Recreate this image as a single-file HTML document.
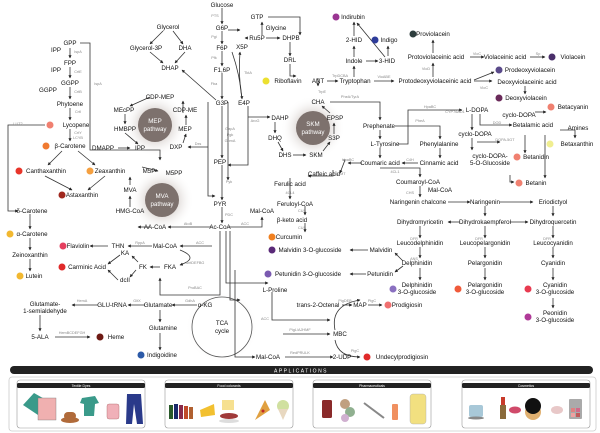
<!DOCTYPE html>
<html><head><meta charset="utf-8"><style>
html,body{margin:0;padding:0;background:#fff;}
svg{display:block;font-family:"Liberation Sans",sans-serif;}
.t{font-size:6.2px;fill:#111;text-anchor:middle;}
.e{font-size:3.8px;fill:#888;text-anchor:middle;}
.l{stroke:#333;stroke-width:0.8;fill:none;}
</style></head><body>
<svg width="600" height="433" viewBox="0 0 600 433">
<defs>
<marker id="a" markerWidth="4" markerHeight="4" refX="3.5" refY="2" orient="auto"><path d="M0,0 L4,2 L0,4z" fill="#222"/></marker>
<radialGradient id="h"><stop offset="0.55" stop-color="#e8e4e2"/><stop offset="1" stop-color="#fff" stop-opacity="0"/></radialGradient>
</defs>
<circle cx="155" cy="125" r="32" fill="url(#h)"/>
<circle cx="162" cy="200" r="32" fill="url(#h)"/>
<circle cx="313" cy="128" r="32" fill="url(#h)"/>
<circle cx="222" cy="327" r="36" fill="url(#h)"/>
<circle cx="155" cy="125" r="17" fill="#7d716d"/>
<circle cx="162" cy="200" r="17" fill="#7d716d"/>
<circle cx="313" cy="128" r="17" fill="#7d716d"/>
<circle cx="222" cy="327" r="30" fill="#fff" stroke="#555" stroke-width="0.8"/>
<text class="t" x="155" y="123" style="fill:#fff">MEP</text><text class="t" x="155" y="131" style="fill:#fff">pathway</text>
<text class="t" x="162" y="198" style="fill:#fff">MVA</text><text class="t" x="162" y="206" style="fill:#fff">pathway</text>
<text class="t" x="313" y="126" style="fill:#fff">SKM</text><text class="t" x="313" y="134" style="fill:#fff">pathway</text>
<text class="t" x="222" y="325">TCA</text><text class="t" x="222" y="333">cycle</text>

<g class="l" marker-end="url(#a)">
<path d="M222,8V24"/><path d="M222,31V44"/><path d="M222,51V66"/><path d="M222,73V99"/><path d="M222,106V158"/><path d="M222,165V200"/><path d="M222,207V223"/>
<path d="M228,30H240"/><path d="M248,38H245"/><path d="M262,35V22"/><path d="M268,17H300V35"/><path d="M266,38H280"/><path d="M290,42V56"/><path d="M290,64V76L296,76"/>
<path d="M232,52Q240,75 242,99"/><path d="M242,99Q238,75 240,52"/>
<path d="M163,31L150,44"/><path d="M173,31L183,44"/><path d="M150,52L163,63"/><path d="M185,52L175,63"/><path d="M216,100L182,70"/>
<path d="M208,102V196H215"/><path d="M228,102V180"/>
<path d="M248,106V165H228"/><path d="M248,117H270"/>
<path d="M208,147H188"/>
<path d="M275,122V133"/><path d="M278,142L283,151"/><path d="M293,155H306"/><path d="M323,151L330,142"/><path d="M334,134V123"/><path d="M330,113L322,106"/>
<path d="M70,48V58"/><path d="M70,67V78"/><path d="M70,87V99"/><path d="M70,108V120"/><path d="M70,129V141"/><path d="M62,151L48,165"/><path d="M78,151L95,165"/><path d="M45,176L72,190"/><path d="M105,176L88,190"/>
<path d="M45,125H8V211H18"/><path d="M30,214V229"/><path d="M30,238V250"/><path d="M30,259V271"/>
<path d="M80,43H90V150H160V160"/>
<path d="M183,113V101"/><path d="M150,97L130,106"/><path d="M125,114V124"/><path d="M125,133L138,144"/><path d="M183,143L186,134"/><path d="M186,125V115"/><path d="M118,148H130"/>
<path d="M142,167L158,171"/><path d="M130,185V177"/><path d="M130,207V196"/><path d="M150,227H138"/><path d="M212,227H168"/>
<path d="M228,227H262V217"/><path d="M212,246H180"/><path d="M152,246H128"/><path d="M108,246H90"/><path d="M160,267H150"/>
<path d="M138,262L132,256"/><path d="M120,255L108,264"/><path d="M136,270L130,277"/><path d="M118,280L108,270"/><path d="M180,250Q200,258 180,265"/>
<path d="M220,231V295H160V278"/><path d="M226,231V283H268"/><path d="M230,231V300H240"/>
<path d="M197,305H172"/><path d="M145,305H128"/><path d="M98,305H72"/><path d="M160,310V322"/><path d="M160,333V350"/><path d="M40,315V331"/><path d="M55,337H90"/>
<path d="M235,270V357H255"/>
<path d="M285,357H333"/><path d="M283,334H330"/><path d="M272,292V320H330"/><path d="M342,305H352"/><path d="M368,305H382"/>
<path d="M335,330Q330,305 360,300"/><path d="M335,340Q338,357 360,357"/>
<path d="M290,178V199"/><path d="M305,206V215"/><path d="M305,223V232"/><path d="M333,170V176H308"/>
<path d="M343,160H345L340,173"/><path d="M362,163H348"/>
<path d="M318,78V86"/><path d="M327,81H338"/><path d="M354,77V66"/><path d="M354,57V46"/><path d="M354,36V22"/><path d="M366,61H378"/><path d="M388,56V46"/><path d="M385,57L357,23"/><path d="M374,81H394"/>
<path d="M433,77V63"/><path d="M433,53V40"/><path d="M470,57H484"/><path d="M530,57H545"/><path d="M474,80L494,72"/><path d="M474,81H492"/><path d="M525,86V94"/>
<path d="M330,102H380V120"/><path d="M380,130V139"/><path d="M380,148V158"/><path d="M395,126H440V139"/><path d="M440,148V158"/><path d="M418,163H402"/>
<path d="M398,144H408V110H462"/><path d="M380,168H420V177"/><path d="M420,186V197"/><path d="M448,202H470"/><path d="M500,202H533"/>
<path d="M472,114V130"/><path d="M480,114V125H512"/><path d="M472,138V150"/><path d="M477,142H500"/><path d="M510,175V182H514"/>
<path d="M535,112H546"/><path d="M560,130L575,130V138"/><path d="M525,135V153"/><path d="M545,135V178"/>
<path d="M485,206V216"/><path d="M553,206V216"/><path d="M460,222H448"/><path d="M510,222H528"/>
<path d="M420,226V238"/><path d="M485,226V238"/><path d="M553,226V238"/><path d="M420,247V258"/><path d="M485,247V258"/><path d="M553,247V258"/>
<path d="M420,268V280"/><path d="M485,268V280"/><path d="M553,268V280"/><path d="M553,298V308"/>
<path d="M403,261L395,253"/><path d="M403,266L395,272"/><path d="M368,250H350"/><path d="M366,274H350"/>
</g>

<g>
<circle cx="50" cy="125" r="3.5" fill="#f08070"/><circle cx="46" cy="146" r="3.5" fill="#f07a30"/>
<circle cx="19" cy="171" r="3.5" fill="#e8352a"/><circle cx="90" cy="171" r="3.5" fill="#f5a040"/>
<circle cx="62" cy="195" r="3.5" fill="#a0281e"/><circle cx="10" cy="234" r="3.5" fill="#f2b830"/>
<circle cx="20" cy="276" r="3.5" fill="#f2b830"/><circle cx="63" cy="246" r="3.5" fill="#e54060"/>
<circle cx="62" cy="267" r="3.5" fill="#e02a2a"/><circle cx="100" cy="337" r="3.5" fill="#6e1a14"/>
<circle cx="141" cy="355" r="3.5" fill="#2c5aa8"/><circle cx="266" cy="81" r="3.5" fill="#ece030"/>
<circle cx="336" cy="17" r="3.5" fill="#9a3592"/><circle cx="375" cy="40" r="3.5" fill="#2e3c9a"/>
<circle cx="413" cy="34" r="3.5" fill="#2e3e3e"/><circle cx="552" cy="57" r="3.5" fill="#4a2f6a"/>
<circle cx="499" cy="70" r="3.5" fill="#5a4a8a"/><circle cx="499" cy="98" r="3.5" fill="#6a2a5a"/>
<circle cx="551" cy="107" r="3.5" fill="#f08070"/><circle cx="550" cy="144" r="3.5" fill="#f0ee90"/>
<circle cx="517" cy="157" r="3.5" fill="#f08070"/><circle cx="519" cy="183" r="3.5" fill="#f08070"/>
<circle cx="272" cy="237" r="3.5" fill="#f08020"/><circle cx="272" cy="250" r="3.5" fill="#5a2a78"/>
<circle cx="268" cy="274" r="3.5" fill="#7a5ab0"/><circle cx="393" cy="289" r="3.5" fill="#8a70c0"/>
<circle cx="458" cy="289" r="3.5" fill="#f05a3a"/><circle cx="528" cy="289" r="3.5" fill="#e83a50"/>
<circle cx="528" cy="317" r="3.5" fill="#b03a98"/><circle cx="388" cy="305" r="3.5" fill="#f07070"/>
<circle cx="367" cy="357" r="3.5" fill="#e02a2a"/>
</g>

<g class="t">
<text x="222" y="7">Glucose</text><text x="222" y="30">G6P</text><text x="222" y="50">F6P</text><text x="222" y="72">F1,6P</text><text x="222" y="105">G3P</text><text x="244" y="105">E4P</text><text x="242" y="49">X5P</text><text x="257" y="40">Ru5P</text><text x="257" y="19">GTP</text><text x="276" y="30">Glycine</text><text x="291" y="40">DHPB</text><text x="290" y="62">DRL</text><text x="288" y="83">Riboflavin</text>
<text x="168" y="29">Glycerol</text><text x="146" y="50">Glycerol-3P</text><text x="185" y="50">DHA</text><text x="170" y="70">DHAP</text>
<text x="70" y="45">GPP</text><text x="56" y="52">IPP</text><text x="70" y="65">FPP</text><text x="56" y="72">IPP</text><text x="70" y="85">GGPP</text><text x="48" y="92">GGPP</text><text x="70" y="106">Phytoene</text>
<text x="76" y="127">Lycopene</text><text x="70" y="148">β-Carotene</text><text x="46" y="173">Canthaxanthin</text><text x="110" y="173">Zeaxanthin</text><text x="82" y="197">Astaxanthin</text><text x="32" y="213">δ-Carotene</text>
<text x="32" y="236">α-Carotene</text><text x="30" y="257">Zeinoxanthin</text><text x="34" y="278">Lutein</text>
<text x="160" y="99">CDP-MEP</text><text x="124" y="112">MEcPP</text><text x="185" y="112">CDP-ME</text><text x="185" y="131">MEP</text><text x="176" y="149">DXP</text><text x="125" y="131">HMBPP</text><text x="103" y="150">DMAPP</text><text x="140" y="150">IPP</text>
<text x="149" y="173">M5P</text><text x="174" y="175">M5PP</text><text x="130" y="192">MVA</text><text x="130" y="213">HMG-CoA</text><text x="155" y="229">AA-CoA</text>
<text x="220" y="164">PEP</text><text x="220" y="206">PYR</text><text x="220" y="229">Ac-CoA</text><text x="262" y="213">Mal-CoA</text>
<text x="280" y="120">DAHP</text><text x="275" y="140">DHQ</text><text x="285" y="157">DHS</text><text x="316" y="157">SKM</text><text x="334" y="140">S3P</text><text x="335" y="120">EPSP</text><text x="318" y="104">CHA</text>
<text x="118" y="248">THN</text><text x="78" y="248">Flaviolin</text><text x="165" y="248">Mal-CoA</text><text x="125" y="255">KA</text><text x="143" y="269">FK</text><text x="170" y="269">FKA</text><text x="87" y="269">Carminic Acid</text><text x="125" y="282">dcII</text>
<text x="45" y="306">Glutamate-</text><text x="45" y="313">1-semialdehyde</text><text x="112" y="307">GLU-tRNA</text><text x="158" y="307">Glutamate</text><text x="205" y="307">α-KG</text><text x="163" y="330">Glutamine</text><text x="40" y="339">5-ALA</text><text x="116" y="339">Heme</text><text x="162" y="357">Indigoidine</text>
<text x="275" y="292">L-Proline</text><text x="318" y="307">trans-2-Octenal</text><text x="360" y="307">MAP</text><text x="407" y="307">Prodigiosin</text><text x="340" y="336">MBC</text><text x="342" y="359">2-UDP</text><text x="402" y="359">Undecylprodigiosin</text><text x="268" y="359">Mal-CoA</text>
<text x="290" y="186">Ferulic acid</text><text x="295" y="206">Feruloyl-CoA</text><text x="292" y="222">β-keto acid</text><text x="289" y="239">Curcumin</text><text x="310" y="252">Malvidin 3-O-glucoside</text><text x="381" y="252">Malvidin</text><text x="308" y="276">Petunidin 3-O-glucoside</text><text x="380" y="276">Petunidin</text>
<text x="353" y="19">Indirubin</text><text x="389" y="42">Indigo</text><text x="354" y="42">2-HID</text><text x="354" y="63">Indole</text><text x="387" y="63">3-HID</text><text x="318" y="83">ANT</text><text x="355" y="83">Tryptophan</text><text x="435" y="83">Protodeoxyviolaceinic acid</text>
<text x="433" y="36">Proviolacein</text><text x="436" y="59">Protoviolaceinic acid</text><text x="505" y="59">Violaceinic acid</text><text x="573" y="59">Violacein</text><text x="530" y="72">Prodeoxyviolacein</text><text x="527" y="84">Deoxyviolaceinic acid</text><text x="526" y="100">Deoxyviolacein</text>
<text x="379" y="128">Prephenate</text><text x="385" y="146">L-Tyrosine</text><text x="439" y="146">Phenylalanine</text><text x="380" y="165">Coumaric acid</text><text x="439" y="165">Cinnamic acid</text><text x="324" y="176">Caffeic acid</text><text x="418" y="184">Coumaroyl-CoA</text><text x="440" y="192">Mal-CoA</text><text x="418" y="204">Naringenin chalcone</text><text x="485" y="204">Naringenin</text><text x="553" y="204">Eriodictyol</text>
<text x="477" y="112">L-DOPA</text><text x="475" y="136">cyclo-DOPA</text><text x="519" y="117">cyclo-DOPA</text><text x="573" y="109">Betacyanin</text><text x="533" y="127">Betalamic acid</text><text x="578" y="130">Amines</text><text x="577" y="146">Betaxanthin</text><text x="490" y="158">cyclo-DOPA-</text><text x="490" y="165">5-O-Glucoside</text><text x="536" y="159">Betanidin</text><text x="536" y="185">Betanin</text>
<text x="420" y="224">Dihydromyricetin</text><text x="485" y="224">Dihydrokaempferol</text><text x="553" y="224">Dihydroquercetin</text><text x="420" y="245">Leucodelphinidin</text><text x="485" y="245">Leucopelargonidin</text><text x="553" y="245">Leucocyanidin</text>
<text x="417" y="265">Delphinidin</text><text x="485" y="265">Pelargonidin</text><text x="553" y="265">Cyanidin</text>
<text x="417" y="287">Delphinidin</text><text x="417" y="294">3-O-glucoside</text><text x="485" y="287">Pelargonidin</text><text x="485" y="294">3-O-glucoside</text><text x="555" y="287">Cyanidin</text><text x="555" y="294">3-O-glucoside</text><text x="555" y="315">Peonidin</text><text x="555" y="322">3-O-glucoside</text>
</g>
<g class="e">
<text x="215" y="17">PTS</text><text x="214" y="38">Pgi</text><text x="214" y="59">Pfk</text><text x="214" y="85">Fba</text><text x="230" y="130">GapA</text><text x="230" y="136">Pgk</text><text x="230" y="142">GpmA</text><text x="229" y="183">Pyk</text><text x="229" y="216">PDC</text><text x="248" y="74">TktA</text><text x="255" y="122">AroG</text><text x="198" y="145">Dxs</text>
<text x="78" y="53">IspA</text><text x="78" y="73">CrtE</text><text x="78" y="93">CrtB</text><text x="78" y="113">CrtI</text><text x="78" y="134">CrtY</text><text x="78" y="139">LCYB</text><text x="18" y="125">LUT2</text><text x="98" y="85">IspA</text>
<text x="188" y="225">AtoB</text><text x="245" y="225">ACC</text><text x="200" y="244">ACC</text><text x="195" y="264">AntDEFBG</text><text x="140" y="244">RppA</text><text x="190" y="302">GdhA</text><text x="137" y="302">GltX</text><text x="82" y="302">HemA</text><text x="72" y="334">HemBCDEFGH</text><text x="195" y="289">ProBAC</text><text x="265" y="320">ACC</text>
<text x="350" y="98">PheA/TyrA</text><text x="430" y="108">HpaBC</text><text x="420" y="122">PheA</text><text x="410" y="161">C4H</text><text x="395" y="173">4CL1</text><text x="410" y="194">CHS</text><text x="348" y="161">HpaBC</text><text x="340" y="175">COMT</text><text x="290" y="194">4CL4</text><text x="302" y="212">CUS</text><text x="302" y="229">CUS</text>
<text x="340" y="77">TrpDCBA</text><text x="322" y="93">TrpE</text><text x="384" y="78">VioABE</text><text x="477" y="55">VioC</text><text x="538" y="55">Sp</text><text x="426" y="70">VioD</text><text x="484" y="89">VioC</text>
<text x="455" y="113">CYP76AD1</text><text x="497" y="124">DOD</text><text x="505" y="141">DOPA-5GT</text><text x="414" y="240">DFR</text><text x="414" y="260">ANS</text><text x="479" y="240">DFR</text><text x="547" y="240">DFR</text><text x="345" y="302">PigDEB</text><text x="372" y="302">PigC</text><text x="300" y="331">PigL/AJHMF</text><text x="300" y="354">RedPRULK</text><text x="355" y="352">PigC</text>
</g>

<rect x="10" y="366" width="583" height="8" rx="4" fill="#222"/>
<text x="301" y="372.5" style="font-size:5px;fill:#fff;text-anchor:middle;letter-spacing:1.5px">APPLICATIONS</text>
<rect x="9" y="377" width="587" height="54" rx="3" fill="#fff" stroke="#ccc" stroke-width="0.8"/>
<g>
<rect x="17" y="380" width="128" height="48" rx="3" fill="#fff" stroke="#999" stroke-width="0.6"/>
<rect x="17" y="383" width="128" height="5" rx="1.5" fill="#222"/>
<text x="81" y="387" style="font-size:3.5px;fill:#fff;text-anchor:middle">Textile Dyes</text>
<polygon points="23,405 34,393 48,401 38,415" fill="#3a9a8a"/><rect x="38" y="398" width="18" height="22" fill="#f0b0b0" stroke="#777" stroke-width="0.4"/>
<ellipse cx="70" cy="420" rx="9" ry="3" fill="#b06a3a"/><rect x="64" y="412" width="12" height="8" rx="4" fill="#b06a3a"/>
<polygon points="82,398 95,396 99,403 95,404 94,416 84,416 84,404 80,403" fill="#3a9a8a"/>
<rect x="107" y="404" width="12" height="15" rx="2" fill="#f0b0b8" stroke="#a66" stroke-width="0.4"/>
<polygon points="127,394 141,394 143,424 137,424 134,404 132,424 126,424" fill="#2a3a8a"/>
<rect x="165" y="380" width="128" height="48" rx="3" fill="#fff" stroke="#999" stroke-width="0.6"/>
<rect x="165" y="383" width="128" height="5" rx="1.5" fill="#222"/>
<text x="229" y="387" style="font-size:3.5px;fill:#fff;text-anchor:middle">Food colorants</text>
<rect x="169" y="405" width="4" height="14" fill="#2a5a2a"/><rect x="174" y="404" width="4" height="15" fill="#1a2a6a"/><rect x="179" y="405" width="4" height="14" fill="#8a2a4a"/><rect x="184" y="406" width="4" height="13" fill="#c04a2a"/><rect x="189" y="407" width="4" height="12" fill="#b06030"/>
<polygon points="200,410 214,404 215,415 201,417" fill="#f2c030"/><rect x="222" y="400" width="12" height="10" fill="#f6e090"/>
<ellipse cx="229" cy="416" rx="9" ry="3" fill="#a03a3a"/><ellipse cx="229" cy="421" rx="10" ry="2" fill="#ddd"/>
<polygon points="255,420 265,400 270,410" fill="#e0a040"/><circle cx="263" cy="411" r="1.5" fill="#c02a2a"/>
<circle cx="283" cy="406" r="6" fill="#d0e0a0"/><polygon points="278,409 288,409 283,420" fill="#e8d8c0"/>
<rect x="313" y="380" width="118" height="48" rx="3" fill="#fff" stroke="#999" stroke-width="0.6"/>
<rect x="313" y="383" width="118" height="5" rx="1.5" fill="#222"/>
<text x="372" y="387" style="font-size:3.5px;fill:#fff;text-anchor:middle">Pharmaceuticals</text>
<rect x="322" y="400" width="10" height="18" rx="1.5" fill="#8a2a2a"/>
<circle cx="345" cy="404" r="5" fill="#c0a080"/><circle cx="350" cy="412" r="5" fill="#90b090"/><circle cx="345" cy="418" r="4" fill="#d0b0d0"/>
<line x1="364" y1="403" x2="384" y2="418" stroke="#888" stroke-width="2"/>
<rect x="392" y="404" width="6" height="16" rx="1" fill="#f09060"/>
<rect x="410" y="394" width="16" height="30" rx="3" fill="#f2e080" stroke="#aaa" stroke-width="0.4"/>
<rect x="462" y="380" width="128" height="48" rx="3" fill="#fff" stroke="#999" stroke-width="0.6"/>
<rect x="462" y="383" width="128" height="5" rx="1.5" fill="#222"/>
<text x="526" y="387" style="font-size:3.5px;fill:#fff;text-anchor:middle">Cosmetics</text>
<rect x="469" y="405" width="14" height="12" rx="2" fill="#a8c8d8"/><ellipse cx="476" cy="418" rx="8" ry="1.5" fill="#888"/>
<rect x="501" y="397" width="4" height="8" fill="#c83a2a"/><rect x="500" y="405" width="6" height="14" fill="#8a6a3a"/>
<ellipse cx="515" cy="410" rx="6" ry="3.5" fill="#d04a6a"/>
<circle cx="533" cy="412" r="8" fill="#e0b070"/><circle cx="533" cy="406" r="8" fill="#111"/>
<ellipse cx="557" cy="410" rx="6" ry="4" fill="#e8c8c8"/>
<rect x="569" y="399" width="13" height="20" rx="1" fill="#aaa"/><rect x="571" y="408" width="4" height="4" fill="#e08080"/><rect x="576" y="408" width="4" height="4" fill="#d06a8a"/><rect x="571" y="413" width="4" height="4" fill="#f0a0a0"/><rect x="576" y="413" width="4" height="4" fill="#c05a5a"/>
</g>
</svg>
</body></html>
